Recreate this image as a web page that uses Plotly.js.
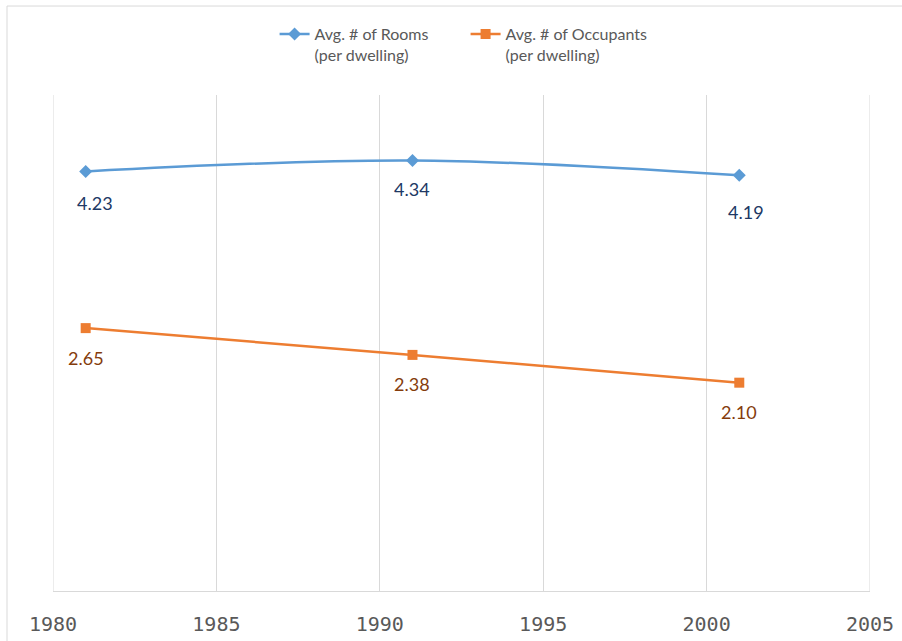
<!DOCTYPE html>
<html>
<head>
<meta charset="utf-8">
<script src="https://cdn.plot.ly/plotly-3.0.1.min.js"></script>
<style>
html,body{margin:0;padding:0;background:#fff;}
#chart{width:902px;height:641px;}
</style>
</head>
<body>
<div id="chart"></div>
<script>
const years = [1981, 1991, 2001];
const rooms = [4.23, 4.34, 4.19];
const occupants = [2.65, 2.38, 2.10];
const seriesNames = ["Avg. # of Rooms<br>(per dwelling)", "Avg. # of Occupants<br>(per dwelling)"];
const xTicks = [1980, 1985, 1990, 1995, 2000, 2005];

const roomsColor = "#5b9bd5";
const occColor = "#ed7d31";
const roomsLabelColor = "#203864";
const occLabelColor = "#843c0c";
const gridColor = "#d9d9d9";

// label offsets in pixels (style only)
const roomsShift = [[9, -32], [0, -29], [7, -37]];
const occShift = [[0, -30], [0, -29], [0, -29]];

const traces = [
  {
    x: years, y: rooms, name: seriesNames[0], type: "scatter", mode: "lines+markers",
    line: {color: roomsColor, width: 2.5, shape: "spline", smoothing: 1},
    marker: {symbol: "diamond", size: 10, color: roomsColor}
  },
  {
    x: years, y: occupants, name: seriesNames[1], type: "scatter", mode: "lines+markers",
    line: {color: occColor, width: 2.5, shape: "spline", smoothing: 1},
    marker: {symbol: "square", size: 10, color: occColor}
  }
];

const annotations = [];
years.forEach((yr, i) => {
  annotations.push({x: yr, y: rooms[i], xref: "x", yref: "y", text: rooms[i].toFixed(2),
    showarrow: false, xshift: roomsShift[i][0], yshift: roomsShift[i][1],
    font: {family: "Lato, sans-serif", size: 18, color: roomsLabelColor}});
  annotations.push({x: yr, y: occupants[i], xref: "x", yref: "y", text: occupants[i].toFixed(2),
    showarrow: false, xshift: occShift[i][0], yshift: occShift[i][1],
    font: {family: "Lato, sans-serif", size: 18, color: occLabelColor}});
});

// edge gridlines (Plotly hides gridlines on the plot edges)
const edgeGrid = [xTicks[0], xTicks[xTicks.length - 1]].map(v => ({
  type: "line", xref: "x", yref: "paper", x0: v, x1: v, y0: 0, y1: 1,
  line: {color: gridColor, width: 1}, layer: "below"
}));

const layout = {
  width: 902, height: 641,
  margin: {l: 53, r: 32, t: 95, b: 50, pad: 0},
  paper_bgcolor: "#ffffff", plot_bgcolor: "#ffffff",
  showlegend: true,
  legend: {orientation: "h", x: 0.505, xanchor: "center", y: 1.157, yanchor: "top",
    valign: "top", entrywidth: 146, entrywidthmode: "pixels",
    font: {family: "Lato, sans-serif", size: 16, color: "#595959"},
    bgcolor: "rgba(0,0,0,0)"},
  xaxis: {range: [1980, 2005], tickvals: xTicks, ticktext: xTicks.map(String),
    showgrid: true, gridcolor: gridColor, gridwidth: 1,
    showline: true, linecolor: gridColor, linewidth: 1,
    zeroline: false, ticks: "", ticklen: 0, ticklabelstandoff: 15,
    tickfont: {family: "DejaVu Sans Mono, monospace", size: 20, color: "#595959"},
    fixedrange: true},
  yaxis: {range: [0, 5], showgrid: false, zeroline: false, showline: false,
    showticklabels: false, ticks: "", fixedrange: true},
  annotations: annotations,
  shapes: [
    {type: "line", xref: "paper", yref: "paper", x0: -0.0563, x1: 1.05, y0: 1.1794, y1: 1.1794,
      line: {color: gridColor, width: 1}},
    {type: "line", xref: "paper", yref: "paper", x0: -0.0563, x1: -0.0563, y0: -0.11, y1: 1.1794,
      line: {color: gridColor, width: 1}}
  ].concat(edgeGrid)
};

Plotly.newPlot("chart", traces, layout, {displayModeBar: false, staticPlot: true});
</script>
</body>
</html>
